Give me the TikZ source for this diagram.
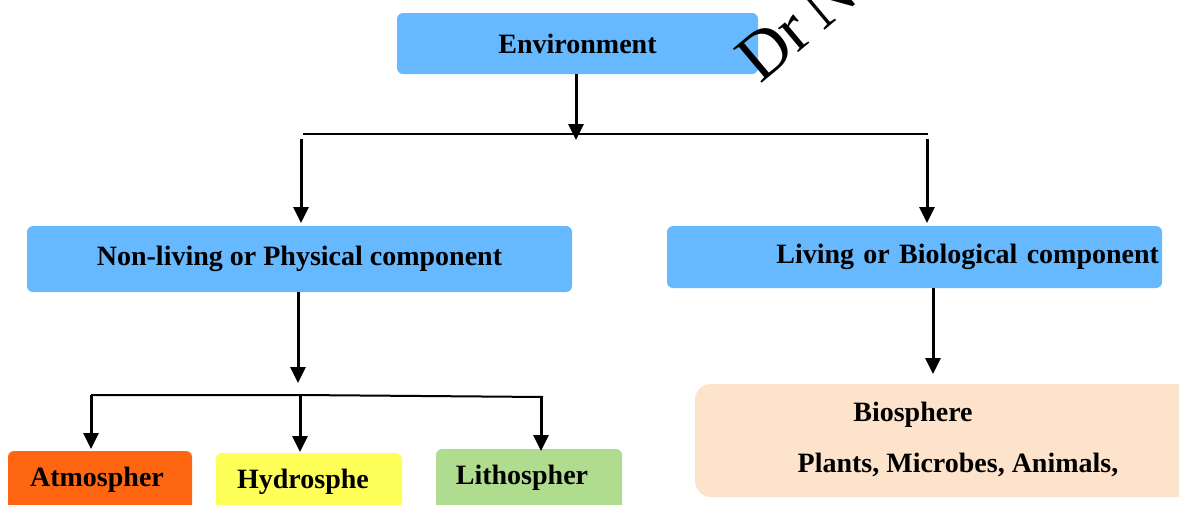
\documentclass[tikz,border=0pt]{standalone}
\usepackage{fontspec}
\setmainfont{Liberation Serif}
\usetikzlibrary{arrows.meta}
\definecolor{boxblue}{RGB}{102,184,255}
\definecolor{atmo}{RGB}{255,102,17}
\definecolor{hydro}{RGB}{255,255,90}
\definecolor{litho}{RGB}{176,220,144}
\definecolor{bio}{RGB}{253,226,204}
\tikzset{
  box/.style={rounded corners=6pt, inner sep=0pt, font=\fontsize{28}{33}\selectfont\bfseries},
  arr/.style={line width=3pt, -{Triangle[length=16pt,width=15pt]}},
  bus/.style={line width=2pt},
  txt/.style={inner sep=0pt, font=\fontsize{28}{33}\selectfont\bfseries}
}
\begin{document}
\begin{tikzpicture}[x=1pt,y=-1pt]
\useasboundingbox (0,0) rectangle (1179,504);
\clip (0,0) rectangle (1179,504);
% top
\node[box, fill=boxblue, minimum width=361pt, minimum height=61pt] (env) at (577.5,43.5) {Environment};
\node[box, fill=boxblue, minimum width=545pt, minimum height=66pt] (nl) at (299.5,259) {Non-living or Physical component};
\node[box, fill=boxblue, minimum width=495pt, minimum height=62pt, text width=489pt, align=right] (lv) at (914.5,257) {Living or Biological component};
% bottom-left boxes
\node[box, fill=atmo, minimum width=184pt, minimum height=64pt] (at) at (100,483) {};
\node[txt] (att) at (97,480) {Atmospher};
\node[box, fill=hydro, minimum width=186pt, minimum height=64pt] (hy) at (309,485) {};
\node[txt] (hyt) at (303,482) {Hydrosphe};
\node[box, fill=litho, minimum width=186pt, minimum height=64pt] (li) at (529,481) {};
\node[txt] (lit) at (522,478) {Lithospher};
% biosphere
\node[box, fill=bio, rounded corners=16pt, minimum width=500pt, minimum height=113pt] (bs) at (945,440.5) {};
\node[txt] (bst1) at (913,415) {Biosphere};
\node[txt] (bst2) at (958,465) {Plants, Microbes, Animals,};
% watermark
\node[rotate=40, anchor=base west, inner sep=0pt, font=\fontsize{68}{72}\selectfont] (wm) at (760,85) {Dr\kern11pt N};
% connectors
\coordinate (b1L) at (303,134);
\coordinate (b1R) at (928,134);
\coordinate (b1M) at (576,140);
\draw[bus] (b1L) -- (b1R);
\draw[arr] (env.south -| b1M) -- (b1M);
\draw[arr] (301,139) -- (301,223);
\draw[arr] (927,139) -- (927,223);
\coordinate (b2L) at (91,395);
\coordinate (b2R) at (543,397);
\coordinate (b2M) at (298,383);
\draw[arr] (nl.south -| b2M) -- (b2M);
\draw[bus] (b2L) -- (300,395) -- (b2R);
\draw[arr] (b2L) -- (91,449);
\draw[arr] (300,395) -- (300,452);
\draw[arr] (541,397) -- (541,451);
\coordinate (b3) at (933,374);
\draw[arr] (lv.south -| b3) -- (b3);
\end{tikzpicture}
\end{document}
